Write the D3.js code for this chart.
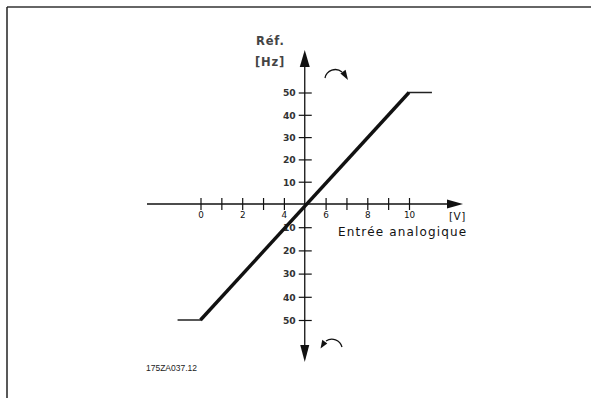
<!DOCTYPE html>
<html>
<head>
<meta charset="utf-8">
<script src="https://cdn.jsdelivr.net/npm/d3@7"></script>
<style>
  html, body { margin: 0; padding: 0; background: #fff; }
  svg { display: block; }
</style>
</head>
<body>
<svg id="chart" width="591" height="398"></svg>
<script>
// ---- data ----
const xTickValues = [0, 1, 2, 3, 4, 6, 7, 8, 9, 10];
const xTickLabels = [0, 2, 4, 6, 8, 10];
const yTickValues = [50, 40, 30, 20, 10, -10, -20, -30, -40, -50];
const inputVolts = [-1.1, 0, 10, 11.1];
const refHz = [-50, -50, 50, 50];
const xUnit = "[V]";
const xTitle = "Entrée analogique";
const yTitle1 = "Réf.";
const yTitle2 = "[Hz]";
const figId = "175ZA037.12";

const svg = d3.select("#chart");
const ink = "#111";

// frame
svg.append("line").attr("x1", 7).attr("y1", 7).attr("x2", 591).attr("y2", 7)
  .attr("stroke", "#333").attr("stroke-width", 1.5);
svg.append("line").attr("x1", 7).attr("y1", 7).attr("x2", 7).attr("y2", 398)
  .attr("stroke", "#222").attr("stroke-width", 1.5);

// scales
const x = d3.scaleLinear().domain([0, 10]).range([200.5, 409]);
const y = d3.scaleLinear().domain([-50, 0, 50]).range([320, 204, 92.5]);
const x0 = x(5), y0 = y(0);

// axis lines
svg.append("line").attr("x1", 147).attr("x2", 450).attr("y1", y0).attr("y2", y0)
  .attr("stroke", ink).attr("stroke-width", 1.3);
svg.append("line").attr("x1", x0).attr("x2", x0).attr("y1", 62).attr("y2", 350)
  .attr("stroke", ink).attr("stroke-width", 1.3);

// arrowheads on axes
svg.append("path").attr("d", `M${x0},50 L${x0 + 5},67 L${x0 - 5},67 Z`).attr("fill", ink);
svg.append("path").attr("d", `M${x0},362 L${x0 + 4.5},345 L${x0 - 4.5},345 Z`).attr("fill", ink);
svg.append("path").attr("d", `M463,${y0} L447,${y0 - 4.5} L447,${y0 + 4.5} Z`).attr("fill", ink);

// x axis ticks
const xAxis = d3.axisBottom(x).tickValues(xTickValues).tickSize(6)
  .tickFormat(d => xTickLabels.includes(d) ? d : "");
const gx = svg.append("g").attr("transform", `translate(0,${y0})`).call(xAxis);
gx.select(".domain").remove();
gx.selectAll(".tick line").attr("y1", -6).attr("y2", 6).attr("stroke", ink).attr("stroke-width", 1.2);
gx.selectAll(".tick text").attr("y", 7.5).attr("dy", "0.71em")
  .attr("font-family", "DejaVu Sans").attr("font-size", 8.8).attr("fill", ink);

// y axis ticks
const yAxis = d3.axisLeft(y).tickValues(yTickValues).tickSize(6)
  .tickFormat(d => Math.abs(d));
const gy = svg.append("g").attr("transform", `translate(${x0},0)`).call(yAxis);
gy.select(".domain").remove();
gy.selectAll(".tick line").attr("x1", -6).attr("x2", 7).attr("stroke", ink).attr("stroke-width", 1.2);
gy.selectAll(".tick text").attr("x", -9).attr("dy", "0.36em")
  .attr("font-family", "DejaVu Sans").attr("font-weight", "bold").attr("font-size", 9.2)
  .attr("fill", "#333");

// data line
const pts = inputVolts.map((v, i) => [v, refHz[i]]);
const line = d3.line().x(d => x(d[0])).y(d => y(d[1]));
svg.append("path").attr("d", line(pts)).attr("fill", "none")
  .attr("stroke", "#222").attr("stroke-width", 1.5);
svg.append("path").attr("d", line(pts.slice(1, 3))).attr("fill", "none")
  .attr("stroke", ink).attr("stroke-width", 3.4);

// rotation arrows
svg.append("path").attr("d", "M325,78 A10.5,10.5 0 0 1 342,72").attr("fill", "none")
  .attr("stroke", ink).attr("stroke-width", 1.3);
svg.append("path").attr("d", "M348,80 L345.6,69.8 L340.4,73.6 Z").attr("fill", ink);
svg.append("path").attr("d", "M342,347 A10.5,10.5 0 0 0 326,341").attr("fill", "none")
  .attr("stroke", ink).attr("stroke-width", 1.3);
svg.append("path").attr("d", "M320.5,348.5 L327.3,343.6 L322.3,339.8 Z").attr("fill", ink);

// texts
const t = (txt, tx, ty, opts = {}) => svg.append("text").attr("x", tx).attr("y", ty)
  .attr("font-family", opts.family || "DejaVu Sans").attr("font-size", opts.size || 11)
  .attr("font-weight", opts.weight || "normal").attr("letter-spacing", opts.ls || 0)
  .attr("fill", opts.fill || ink).attr("text-anchor", opts.anchor || "start").text(txt);

t(yTitle1, 256, 45, { size: 11.5, weight: "bold", ls: 0.8, fill: "#444" });
t(yTitle2, 255, 66, { size: 11.5, weight: "bold", ls: 0.8, fill: "#444" });
t(xUnit, 449, 219.5, { size: 10.5, ls: 0.5 });
t(xTitle, 338, 235.5, { size: 12, ls: 1.15 });
t(figId, 146, 370.5, { size: 8.5, family: "Liberation Sans", fill: "#222" });
</script>
</body>
</html>
